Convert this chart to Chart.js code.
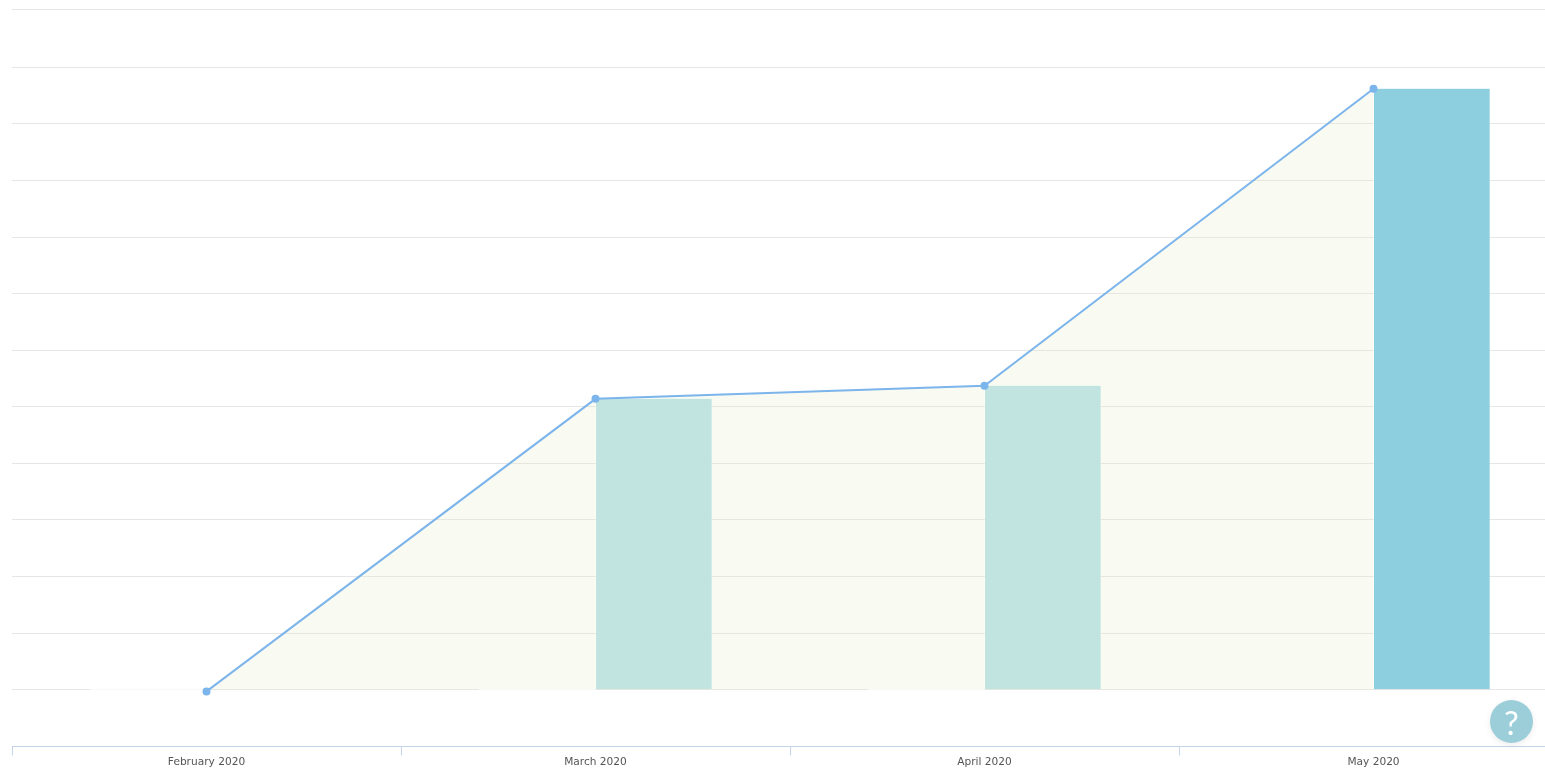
<!DOCTYPE html>
<html lang="en">
<head>
    <meta charset="UTF-8">
    <title>Monthly chart</title>
    <script src="https://cdn.jsdelivr.net/npm/chart.js"></script>
    <style>
        html, body { margin: 0; padding: 0; background: #fff; overflow: hidden; }
        .chart-wrap { position: absolute; left: 0; top: 0; width: 1574px; height: 773px; }
        .help-btn {
            position: fixed; left: 1490px; top: 700px; width: 43px; height: 43px;
            border-radius: 50%; background: #9bced9; color: #fff;
            box-shadow: 0 2px 6px rgba(0, 0, 0, 0.08);
            font: 400 33px/44px Lato, sans-serif; text-align: center;
        }
    </style>
</head>
<body>
<div class="chart-wrap"><canvas id="chart" width="1574" height="773"></canvas></div>
<div class="help-btn">?</div>
<script>
    const months = ['February 2020', 'March 2020', 'April 2020', 'May 2020'];
    const lineValues = [-0.03, 5.14, 5.37, 10.62];
    const barValues = [null, 5.15, 5.38, 10.63];
    const emptyBarValues = [0, 0, 0, null];
    const barColors = ['#c1e4e0', '#c1e4e0', '#c1e4e0', '#8ecfdf'];

    new Chart(document.getElementById('chart'), {
        type: 'bar',
        data: {
            labels: months,
            datasets: [
                {
                    type: 'line',
                    data: lineValues,
                    order: 1,
                    borderColor: '#7cb5ec',
                    backgroundColor: 'rgba(232, 236, 196, 0.24)',
                    pointBackgroundColor: '#7cb5ec',
                    pointBorderColor: '#7cb5ec',
                    borderWidth: 2,
                    pointRadius: 3,
                    tension: 0,
                    fill: 'origin'
                },
                {
                    data: emptyBarValues,
                    order: 2,
                    backgroundColor: '#fff',
                    minBarLength: 1,
                    barPercentage: 1,
                    categoryPercentage: 0.6
                },
                {
                    data: barValues,
                    order: 2,
                    backgroundColor: barColors,
                    borderColor: '#fff',
                    borderWidth: 0.5,
                    barPercentage: 1,
                    categoryPercentage: 0.6
                }
            ]
        },
        options: {
            responsive: false,
            animation: false,
            layout: { padding: { left: 12, top: 9, right: 0, bottom: 3 } },
            plugins: {
                legend: { display: false },
                tooltip: { enabled: false },
                filler: { drawTime: 'beforeDatasetsDraw' }
            },
            scales: {
                x: {
                    grid: { drawOnChartArea: false, color: '#c5d3ea', tickLength: 9 },
                    border: { color: '#c5d3ea' },
                    ticks: { color: '#555', font: { family: 'DejaVu Sans', size: 10.6 }, padding: 1, maxRotation: 0 }
                },
                y: {
                    min: -1,
                    max: 12.03,
                    grid: {
                        color: ctx => ctx.tick.value === -1 ? 'transparent' : '#e6e6e6',
                        drawTicks: false
                    },
                    border: { display: false },
                    ticks: { display: false, stepSize: 1 }
                }
            }
        }
    });
</script>
</body>
</html>
